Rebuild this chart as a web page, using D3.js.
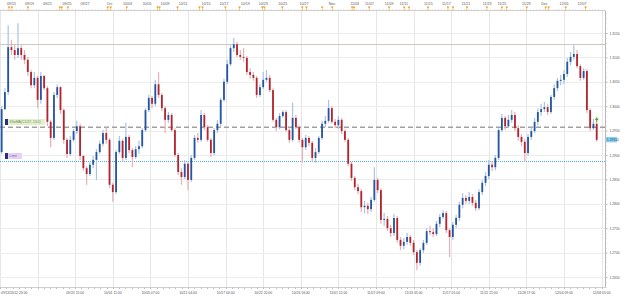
<!DOCTYPE html>
<html>
<head>
<meta charset="utf-8">
<script src="https://cdn.jsdelivr.net/npm/d3@7/dist/d3.min.js"></script>
<style>
  html, body { margin: 0; padding: 0; background: #fff; }
  svg { display: block; font-family: "Liberation Sans", Arial, sans-serif; }
</style>
</head>
<body>
<svg id="chart" width="625" height="297"></svg>
<script>
// 8-hour candles, [open, high, low, close]
const candles = [
  [1.2906, 1.3000, 1.2902, 1.2994], [1.2994, 1.3037, 1.2992, 1.3029], [1.3029, 1.3166, 1.3023, 1.3121],
  [1.3121, 1.3136, 1.3105, 1.3115], [1.3115, 1.3125, 1.3095, 1.3105], [1.3105, 1.3170, 1.3099, 1.3119],
  [1.3119, 1.3125, 1.3095, 1.3105], [1.3105, 1.3115, 1.3086, 1.3095], [1.3095, 1.3101, 1.3062, 1.3070],
  [1.3070, 1.3074, 1.3037, 1.3043], [1.3043, 1.3070, 1.3037, 1.3058], [1.3058, 1.3062, 1.2996, 1.3013],
  [1.3013, 1.3070, 1.3005, 1.3062], [1.3062, 1.3064, 1.3033, 1.3037], [1.3037, 1.3041, 1.2959, 1.2968],
  [1.2968, 1.2972, 1.2916, 1.2935], [1.2935, 1.3029, 1.2931, 1.3023], [1.3023, 1.3045, 1.3017, 1.3039],
  [1.3039, 1.3041, 1.2984, 1.2992], [1.2992, 1.2996, 1.2923, 1.2931], [1.2931, 1.2935, 1.2894, 1.2902],
  [1.2902, 1.2939, 1.2898, 1.2931], [1.2931, 1.2953, 1.2927, 1.2949], [1.2949, 1.2970, 1.2943, 1.2959],
  [1.2959, 1.2964, 1.2890, 1.2898], [1.2898, 1.2900, 1.2867, 1.2873], [1.2873, 1.2877, 1.2839, 1.2861],
  [1.2861, 1.2886, 1.2857, 1.2880], [1.2880, 1.2898, 1.2873, 1.2890], [1.2890, 1.2912, 1.2849, 1.2906],
  [1.2906, 1.2929, 1.2902, 1.2923], [1.2923, 1.2951, 1.2918, 1.2945], [1.2945, 1.2957, 1.2923, 1.2931],
  [1.2931, 1.2935, 1.2832, 1.2839], [1.2839, 1.2843, 1.2804, 1.2824], [1.2824, 1.2910, 1.2820, 1.2906],
  [1.2906, 1.2939, 1.2902, 1.2929], [1.2929, 1.2933, 1.2886, 1.2894], [1.2894, 1.2966, 1.2890, 1.2937],
  [1.2937, 1.2941, 1.2904, 1.2910], [1.2910, 1.2914, 1.2875, 1.2896], [1.2896, 1.2918, 1.2892, 1.2912],
  [1.2912, 1.2929, 1.2902, 1.2918], [1.2918, 1.2955, 1.2914, 1.2951], [1.2951, 1.2996, 1.2947, 1.2992],
  [1.2992, 1.3023, 1.2988, 1.3017], [1.3017, 1.3021, 1.2996, 1.3005], [1.3005, 1.3054, 1.3000, 1.3045],
  [1.3045, 1.3070, 1.3017, 1.3023], [1.3023, 1.3027, 1.2990, 1.2996], [1.2996, 1.3000, 1.2945, 1.2972],
  [1.2972, 1.2988, 1.2966, 1.2982], [1.2982, 1.2986, 1.2947, 1.2951], [1.2951, 1.2955, 1.2896, 1.2900],
  [1.2900, 1.2904, 1.2859, 1.2865], [1.2865, 1.2873, 1.2839, 1.2855], [1.2855, 1.2890, 1.2851, 1.2882],
  [1.2882, 1.2886, 1.2828, 1.2849], [1.2849, 1.2900, 1.2845, 1.2894], [1.2894, 1.2941, 1.2890, 1.2935],
  [1.2935, 1.2945, 1.2925, 1.2931], [1.2931, 1.2992, 1.2927, 1.2982], [1.2982, 1.2986, 1.2951, 1.2957],
  [1.2957, 1.2961, 1.2927, 1.2931], [1.2931, 1.2935, 1.2896, 1.2904], [1.2904, 1.2955, 1.2900, 1.2951],
  [1.2951, 1.2972, 1.2945, 1.2964], [1.2964, 1.3017, 1.2959, 1.3013], [1.3013, 1.3056, 1.3009, 1.3050],
  [1.3050, 1.3095, 1.3045, 1.3086], [1.3086, 1.3125, 1.3082, 1.3119], [1.3119, 1.3140, 1.3111, 1.3127],
  [1.3127, 1.3132, 1.3101, 1.3105], [1.3105, 1.3115, 1.3095, 1.3101], [1.3101, 1.3119, 1.3091, 1.3099],
  [1.3099, 1.3103, 1.3064, 1.3070], [1.3070, 1.3078, 1.3056, 1.3064], [1.3064, 1.3070, 1.3052, 1.3058],
  [1.3058, 1.3062, 1.3017, 1.3023], [1.3023, 1.3045, 1.3019, 1.3039], [1.3039, 1.3070, 1.3035, 1.3054],
  [1.3054, 1.3074, 1.3050, 1.3058], [1.3058, 1.3064, 1.3029, 1.3033], [1.3033, 1.3037, 1.2968, 1.2972],
  [1.2972, 1.2976, 1.2949, 1.2957], [1.2957, 1.2986, 1.2953, 1.2980], [1.2980, 1.2992, 1.2976, 1.2988],
  [1.2988, 1.2992, 1.2947, 1.2951], [1.2951, 1.2955, 1.2925, 1.2931], [1.2931, 1.3007, 1.2927, 1.2976],
  [1.2976, 1.2982, 1.2953, 1.2957], [1.2957, 1.2961, 1.2925, 1.2931], [1.2931, 1.2935, 1.2884, 1.2916],
  [1.2916, 1.2941, 1.2910, 1.2935], [1.2935, 1.2939, 1.2918, 1.2925], [1.2925, 1.2929, 1.2886, 1.2894],
  [1.2894, 1.2914, 1.2884, 1.2906], [1.2906, 1.2939, 1.2902, 1.2935], [1.2935, 1.2970, 1.2931, 1.2964],
  [1.2964, 1.2980, 1.2957, 1.2970], [1.2970, 1.3013, 1.2966, 1.2996], [1.2996, 1.3000, 1.2964, 1.2968],
  [1.2968, 1.2974, 1.2955, 1.2961], [1.2961, 1.2980, 1.2953, 1.2972], [1.2972, 1.2976, 1.2943, 1.2949],
  [1.2949, 1.2953, 1.2927, 1.2931], [1.2931, 1.2935, 1.2877, 1.2882], [1.2882, 1.2886, 1.2847, 1.2853],
  [1.2853, 1.2857, 1.2828, 1.2834], [1.2834, 1.2841, 1.2820, 1.2826], [1.2826, 1.2830, 1.2783, 1.2793],
  [1.2793, 1.2806, 1.2781, 1.2796], [1.2796, 1.2802, 1.2779, 1.2789], [1.2789, 1.2814, 1.2783, 1.2808],
  [1.2808, 1.2875, 1.2804, 1.2849], [1.2849, 1.2853, 1.2822, 1.2828], [1.2828, 1.2832, 1.2759, 1.2767],
  [1.2767, 1.2781, 1.2755, 1.2769], [1.2769, 1.2775, 1.2744, 1.2750], [1.2750, 1.2757, 1.2732, 1.2740],
  [1.2740, 1.2779, 1.2734, 1.2771], [1.2771, 1.2775, 1.2720, 1.2726], [1.2726, 1.2732, 1.2705, 1.2714],
  [1.2714, 1.2730, 1.2707, 1.2722], [1.2722, 1.2740, 1.2716, 1.2732], [1.2732, 1.2736, 1.2714, 1.2720],
  [1.2720, 1.2726, 1.2695, 1.2701], [1.2701, 1.2705, 1.2664, 1.2679], [1.2679, 1.2709, 1.2673, 1.2705],
  [1.2705, 1.2726, 1.2699, 1.2720], [1.2720, 1.2750, 1.2716, 1.2744], [1.2744, 1.2755, 1.2736, 1.2742],
  [1.2742, 1.2750, 1.2732, 1.2738], [1.2738, 1.2765, 1.2734, 1.2759], [1.2759, 1.2779, 1.2752, 1.2773],
  [1.2773, 1.2787, 1.2769, 1.2781], [1.2781, 1.2785, 1.2740, 1.2746], [1.2746, 1.2750, 1.2691, 1.2732],
  [1.2732, 1.2763, 1.2726, 1.2757], [1.2757, 1.2777, 1.2750, 1.2771], [1.2771, 1.2804, 1.2765, 1.2798],
  [1.2798, 1.2822, 1.2791, 1.2812], [1.2812, 1.2818, 1.2800, 1.2806], [1.2806, 1.2824, 1.2800, 1.2814],
  [1.2814, 1.2820, 1.2796, 1.2802], [1.2802, 1.2808, 1.2785, 1.2791], [1.2791, 1.2830, 1.2787, 1.2824],
  [1.2824, 1.2849, 1.2818, 1.2843], [1.2843, 1.2865, 1.2836, 1.2857], [1.2857, 1.2890, 1.2851, 1.2880],
  [1.2880, 1.2888, 1.2867, 1.2875], [1.2875, 1.2900, 1.2869, 1.2894], [1.2894, 1.2955, 1.2890, 1.2951],
  [1.2951, 1.2984, 1.2947, 1.2976], [1.2976, 1.2980, 1.2951, 1.2959], [1.2959, 1.2982, 1.2955, 1.2972],
  [1.2972, 1.2992, 1.2966, 1.2982], [1.2982, 1.2988, 1.2949, 1.2955], [1.2955, 1.2961, 1.2929, 1.2937],
  [1.2937, 1.2943, 1.2918, 1.2927], [1.2927, 1.2933, 1.2886, 1.2904], [1.2904, 1.2943, 1.2898, 1.2937],
  [1.2937, 1.2957, 1.2931, 1.2949], [1.2949, 1.2976, 1.2945, 1.2968], [1.2968, 1.2996, 1.2961, 1.2988],
  [1.2988, 1.3005, 1.2980, 1.2994], [1.2994, 1.3009, 1.2988, 1.2998], [1.2998, 1.3005, 1.2982, 1.2988],
  [1.2988, 1.3023, 1.2984, 1.3019], [1.3019, 1.3045, 1.3013, 1.3037], [1.3037, 1.3058, 1.3031, 1.3052],
  [1.3052, 1.3064, 1.3043, 1.3054], [1.3054, 1.3074, 1.3045, 1.3066], [1.3066, 1.3099, 1.3060, 1.3091],
  [1.3091, 1.3111, 1.3084, 1.3101], [1.3101, 1.3125, 1.3095, 1.3107], [1.3107, 1.3115, 1.3078, 1.3082],
  [1.3082, 1.3086, 1.3052, 1.3058], [1.3058, 1.3078, 1.3054, 1.3072], [1.3072, 1.3076, 1.2986, 1.2992],
  [1.2992, 1.2996, 1.2949, 1.2955], [1.2955, 1.2974, 1.2951, 1.2964], [1.2964, 1.2972, 1.2927, 1.2931]
];

// price ticks on the right axis
const priceTicks = [1.2650, 1.2700, 1.2750, 1.2800, 1.2850, 1.2900, 1.2950, 1.3000, 1.3050, 1.3100, 1.3150];

// bottom time labels, one every 23 four-hour slots
const bottomLabels = ["09/13/2012 23:00", "", "09/25 15:00", "10/01 11:00", "10/05 07:00", "10/11 04:00",
  "10/17 00:00", "10/22 20:00", "10/26 16:00", "11/01 12:00", "11/07 09:00", "11/13 05:00",
  "11/17 01:00", "11/22 21:00", "11/28 17:00", "12/04 09:00", "12/08 05:00"];

// top date labels and their position in four-hour slots
const topLabels = ["09/15", "09/19", "09/21", "09/25", "09/27", "Oct", "10/03", "10/05", "10/09", "10/11",
  "10/15", "10/17", "10/19", "10/23", "10/25", "10/27", "Nov", "11/03", "11/07", "11/09", "11/11",
  "11/15", "11/17", "11/21", "11/23", "11/25", "11/29", "Dec", "12/05", "12/07"];
const topLabelSlots = [7, 18, 29, 41, 52, 67, 78, 90, 101, 112, 126, 137, 150, 161, 173, 186, 203, 217,
  226, 238, 247, 262, 273, 285, 298, 307, 322, 333, 345, 356];

// event markers along the top (slot positions)
const markerSlots = [5.5, 7.3, 17.1, 36.6, 37.8, 41.5, 65.9, 67.7, 77.5, 96.4, 97.6, 108.6, 122, 123.9,
  137.9, 146.5, 160.5, 161.7, 172.7, 184.9, 187.4, 197.1, 203.2, 215.4, 216.6, 225.8, 238, 247.2, 250.2,
  261.8, 274, 277.1, 285.6, 297.8, 307, 310, 322.2, 333.8, 335.6, 346, 358.2];

// horizontal study lines
const resistance = 1.3127;
const movingAvg = 1.2957;
const limitLevel = 1.2888;
const maLabel = "39wMA(C1/27, 13.0)";
const limitLabel = "Limit";
const lastPriceLabel = "1.29310";
const signalPrice = 1.2974;

const svg = d3.select('#chart');
const plot = { left: 0, right: 605, top: 10.5, bottom: 287.5 };
const slotsTotal = 368;

const x = d3.scaleLinear().domain([0, slotsTotal]).range([0, 601.6]);
const y = d3.scaleLinear().domain([1.2650, 1.3150]).range([277, 33]);

// grid
const grid = svg.append('g');
grid.selectAll('.vgrid')
  .data(bottomLabels)
  .join('line')
  .attr('x1', (d, i) => Math.round(x(i * 23)) + 0.5)
  .attr('x2', (d, i) => Math.round(x(i * 23)) + 0.5)
  .attr('y1', plot.top)
  .attr('y2', plot.bottom)
  .attr('stroke', '#e6e6e6');

grid.selectAll('.hgrid')
  .data(priceTicks)
  .join('line')
  .attr('x1', plot.left)
  .attr('x2', plot.right)
  .attr('y1', d => Math.round(y(d)) + 0.5)
  .attr('y2', d => Math.round(y(d)) + 0.5)
  .attr('stroke', '#ececec');

// study lines
svg.append('line')
  .attr('x1', plot.left).attr('x2', plot.right)
  .attr('y1', Math.round(y(resistance)) + 0.5).attr('y2', Math.round(y(resistance)) + 0.5)
  .attr('stroke', '#cdc7bd');

svg.append('line')
  .attr('x1', plot.left).attr('x2', plot.right)
  .attr('y1', y(movingAvg)).attr('y2', y(movingAvg))
  .attr('stroke', '#a0a0a0')
  .attr('stroke-width', 1.4)
  .attr('stroke-dasharray', '5,3');

svg.append('line')
  .attr('x1', plot.left).attr('x2', plot.right)
  .attr('y1', Math.round(y(limitLevel)) + 0.5).attr('y2', Math.round(y(limitLevel)) + 0.5)
  .attr('stroke', '#4cb2e4')
  .attr('stroke-dasharray', '1,1');

// candles
const cx = (d, i) => x(2 * i + 1);
const bull = d => d[3] >= d[0];

const candleG = svg.append('g');
candleG.selectAll('.wick')
  .data(candles)
  .join('line')
  .attr('x1', cx).attr('x2', cx)
  .attr('y1', d => y(d[1]))
  .attr('y2', d => y(d[2]))
  .attr('stroke', d => bull(d) ? '#a9c4e2' : '#e6b0b4')
  .attr('stroke-width', 1.2);

candleG.selectAll('.body')
  .data(candles)
  .join('rect')
  .attr('x', (d, i) => cx(d, i) - 0.9)
  .attr('width', 1.8)
  .attr('y', d => y(Math.max(d[0], d[3])))
  .attr('height', d => Math.max(1, Math.abs(y(d[0]) - y(d[3]))))
  .attr('fill', d => bull(d) ? '#2355a3' : '#b5232e');

// study labels on the left
function studyLabel(price, text, bg, fg, w) {
  const top = Math.round(y(price)) - 8;
  svg.append('rect').attr('x', 5).attr('y', top).attr('width', 3).attr('height', 6).attr('fill', '#25307e');
  svg.append('rect').attr('x', 8).attr('y', top).attr('width', w).attr('height', 6).attr('fill', bg);
  svg.append('text').attr('x', 9.5).attr('y', top + 4.3)
    .attr('font-size', 3.4).attr('fill', fg).text(text);
}
studyLabel(movingAvg, maLabel, '#e2f0cc', '#6f8a55', 37);
studyLabel(limitLevel, limitLabel, '#e6d2f2', '#8d5bb0', 14);

// signal arrow on the last candle
const lastX = cx(null, candles.length - 1);
const sy = y(signalPrice);
svg.append('path')
  .attr('d', `M${lastX - 2},${sy + 1} L${lastX},${sy - 2} L${lastX + 2},${sy + 1} Z`)
  .attr('fill', '#58b02c');
svg.append('line')
  .attr('x1', lastX).attr('x2', lastX).attr('y1', sy).attr('y2', sy + 3)
  .attr('stroke', '#58b02c').attr('stroke-width', 1);

// axes frame
svg.append('line').attr('x1', 0).attr('x2', plot.right).attr('y1', plot.top).attr('y2', plot.top).attr('stroke', '#cfcfcf');
svg.append('line').attr('x1', 0).attr('x2', plot.right).attr('y1', plot.bottom).attr('y2', plot.bottom).attr('stroke', '#cfcfcf');
svg.append('line').attr('x1', plot.right + 0.5).attr('x2', plot.right + 0.5).attr('y1', plot.top).attr('y2', plot.bottom).attr('stroke', '#b8b8b8');

// right axis
const yAxis = d3.axisRight(y)
  .tickValues(priceTicks)
  .tickFormat(d3.format('.4f'))
  .tickSize(2)
  .tickPadding(2);
const yAxisG = svg.append('g')
  .attr('transform', `translate(${plot.right + 0.5},0)`)
  .call(yAxis);
yAxisG.select('.domain').remove();
yAxisG.selectAll('line').attr('stroke', '#b8b8b8');
yAxisG.selectAll('text').attr('font-size', 3.3).attr('fill', '#555').attr('font-family', '"Liberation Sans", Arial, sans-serif');

// minor ticks on the right axis
svg.append('g').selectAll('line')
  .data(d3.range(1.2630, 1.3195, 0.001))
  .join('line')
  .attr('x1', plot.right + 0.5).attr('x2', plot.right + 1.5)
  .attr('y1', d => Math.round(y(d)) + 0.5).attr('y2', d => Math.round(y(d)) + 0.5)
  .attr('stroke', '#c4c4c4');

// last price box
const lpY = y(candles[candles.length - 1][3]);
svg.append('rect').attr('x', 606).attr('y', lpY - 3).attr('width', 11).attr('height', 5.5).attr('fill', '#8cd2f2');
svg.append('text').attr('x', 606.7).attr('y', lpY + 1.1)
  .attr('font-size', 3.3).attr('fill', '#17456f').text(lastPriceLabel);

// bottom axis
const bottomG = svg.append('g');
bottomG.selectAll('.btick')
  .data(d3.range(0, slotsTotal + 1, 23 / 6))
  .join('line')
  .attr('x1', d => Math.round(x(d)) + 0.5).attr('x2', d => Math.round(x(d)) + 0.5)
  .attr('y1', plot.bottom).attr('y2', plot.bottom + 1.5)
  .attr('stroke', '#bdbdbd');
bottomG.selectAll('.blabel')
  .data(bottomLabels)
  .join('text')
  .attr('x', (d, i) => i === 0 ? 1 : x(i * 23))
  .attr('y', 294)
  .attr('text-anchor', (d, i) => i === 0 ? 'start' : 'middle')
  .attr('font-size', 3.4)
  .attr('fill', '#555')
  .text(d => d);

// top axis
const topG = svg.append('g');
topG.selectAll('.ttick')
  .data(d3.range(0, slotsTotal + 1, 2))
  .join('line')
  .attr('x1', d => Math.round(x(d)) + 0.5).attr('x2', d => Math.round(x(d)) + 0.5)
  .attr('y1', plot.top - 1).attr('y2', plot.top)
  .attr('stroke', '#d0d0d0');
topG.selectAll('.tlabel')
  .data(topLabels)
  .join('text')
  .attr('x', (d, i) => x(topLabelSlots[i]))
  .attr('y', 4.5)
  .attr('text-anchor', 'middle')
  .attr('font-size', 3.6)
  .attr('fill', '#556')
  .text(d => d);
topG.selectAll('.marker')
  .data(markerSlots)
  .join('path')
  .attr('d', d => {
    const mx = x(d);
    return `M${mx - 1.4},6.4 L${mx + 1.4},6.4 L${mx},9 Z M${mx - 0.3},9 L${mx + 0.3},9 L${mx + 0.3},10.5 L${mx - 0.3},10.5 Z`;
  })
  .attr('fill', '#eea32a');
</script>
</body>
</html>
